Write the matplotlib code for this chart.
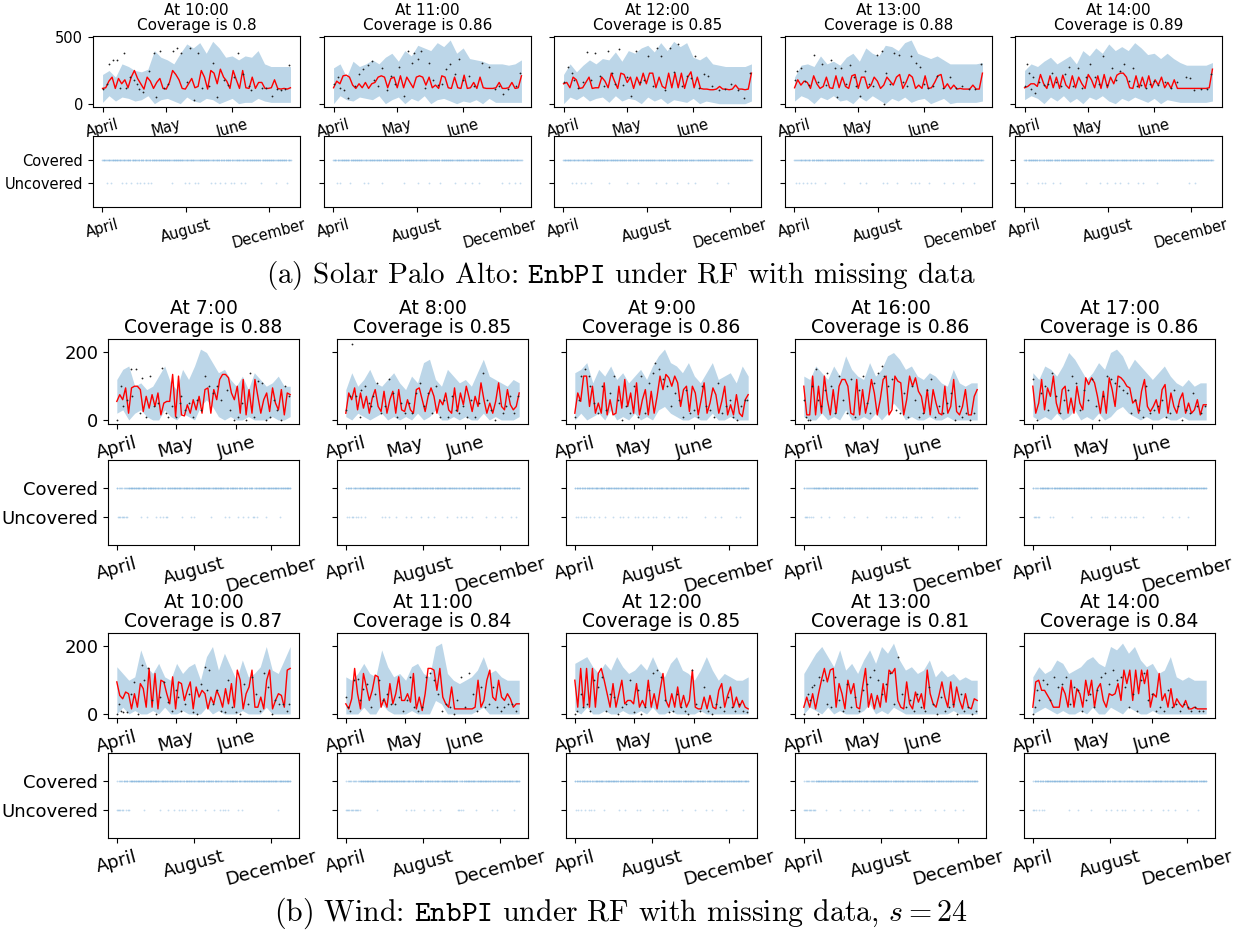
import numpy as np
import matplotlib
matplotlib.use("Agg")
import matplotlib.pyplot as plt

plt.rcParams['mathtext.fontset'] = 'cm'

# ---------------- data ----------------
ts_ticks = [0, 30, 61]
ts_labels = ['April', 'May', 'June']
strip_ticks = [0, 122, 244]
strip_labels = ['April', 'August', 'December']
n_strip_days = 276

# (a) Solar Palo Alto
hours_a = ['10:00', '11:00', '12:00', '13:00', '14:00']
cov_a = ['0.8', '0.86', '0.85', '0.88', '0.89']

red_a1 = [115,120,170,200,115,190,150,180,120,200,250,190,150,110,200,170,115,160,190,115,
          110,160,250,220,180,115,110,150,190,120,130,250,200,110,250,230,150,260,200,170,
          115,250,180,115,250,120,115,200,115,160,160,115,115,120,180,115,110,115,110,120]
up_a1 = [220,250,200,300,280,250,240,260,400,350,330,300,380,450,420,460,380,470,420,350,360,330,360,350,400,300,280,280,280,280]
lo_a1 = [10,60,20,50,40,20,30,60,0,30,40,20,0,50,20,10,40,30,0,20,40,0,10,10,40,20,10,10,10,10]
dots_a1 = [(0,110),(2,150),(3,300),(5,330),(7,330),(8,120),(10,380),(11,120),(13,200),(15,180),(16,150),(17,110),(19,90),(22,250),(24,380),(25,50),(27,400),(29,120),(31,150),(33,400),(35,420),(37,380),(40,160),(41,420),(43,30),(45,380),(47,120),(50,130),(52,310),(54,50),(57,180),(59,140),(62,200),(64,380),(66,220),(69,130),(70,100),(75,120),(77,120),(80,60),(82,110),(84,100),(86,110),(88,290)]
unc_a1 = [6,13,29,34,42,50,55,61,66,71,101,121,126,135,140,158,164,172,179,188,193,203,209,232,254,270]

red_a2 = [120,170,150,210,215,200,140,115,150,120,160,115,150,160,200,210,200,120,190,200,
          120,210,120,200,160,120,200,210,200,140,200,120,140,115,210,200,120,115,200,120,
          115,215,115,120,160,115,200,120,115,115,115,120,160,115,115,120,160,115,120,210]
up_a2 = [270,300,200,320,280,300,330,300,350,380,320,400,360,440,420,400,460,430,480,380,420,340,330,320,300,300,300,290,300,330]
lo_a2 = [0,60,30,20,50,40,30,60,0,30,50,0,40,20,60,0,30,40,20,0,20,10,30,0,40,10,10,10,10,10]
dots_a2 = [(0,150),(2,200),(3,120),(5,100),(7,40),(10,130),(12,220),(14,260),(16,290),(18,320),(19,180),(21,130),(23,270),(25,100),(27,210),(29,150),(31,280),(33,60),(35,400),(37,310),(38,380),(40,340),(41,400),(43,120),(45,310),(47,180),(49,140),(51,150),(53,260),(55,300),(57,220),(59,340),(61,180),(64,210),(66,130),(70,310),(73,280),(76,110),(78,130),(80,70),(82,110),(86,130),(88,230)]
unc_a2 = [5,9,24,44,50,71,103,124,140,156,177,193,203,213,246,256,266,272]

red_a3 = [150,160,120,200,180,115,120,160,200,115,120,120,200,170,120,230,170,115,230,220,
          160,200,115,200,140,230,150,230,230,120,200,130,115,230,120,230,120,230,115,200,
          240,120,200,115,110,110,105,105,110,130,110,110,105,110,140,110,110,105,110,230]
up_a3 = [220,300,240,290,330,300,340,330,390,320,400,380,420,440,390,460,400,470,430,460,350,330,360,300,290,280,280,280,280,300]
lo_a3 = [0,50,30,60,20,40,50,10,60,20,40,30,0,50,20,40,0,30,20,10,40,0,20,10,0,0,0,0,0,20]
dots_a3 = [(0,160),(2,280),(4,230),(5,180),(7,120),(9,160),(11,390),(13,180),(15,380),(17,210),(19,130),(21,400),(23,230),(24,150),(26,410),(28,140),(30,200),(32,60),(34,400),(36,160),(38,180),(40,360),(42,130),(44,420),(46,360),(48,100),(50,420),(52,240),(54,450),(56,130),(58,210),(60,190),(62,360),(64,120),(66,220),(68,210),(70,130),(73,100),(76,110),(79,150),(82,100),(85,40),(88,230)]
unc_a3 = [13,18,25,31,41,66,93,109,135,150,166,182,193,225,241]

red_a4 = [120,180,140,170,160,115,210,150,115,130,200,120,115,210,120,200,130,115,210,220,
          115,200,200,115,140,200,170,115,140,200,170,140,200,220,115,160,220,200,115,140,
          115,210,115,120,160,210,220,115,150,110,140,110,115,110,110,110,140,110,110,230]
up_a4 = [200,290,300,280,360,300,320,290,350,380,320,420,380,360,440,430,400,460,480,380,360,340,360,330,300,300,300,300,300,310]
lo_a4 = [20,60,40,0,50,30,60,20,30,0,50,20,60,30,0,40,20,50,10,30,40,0,20,40,0,10,10,10,10,20]
dots_a4 = [(0,180),(1,250),(3,270),(5,170),(7,140),(9,370),(11,160),(13,300),(15,140),(17,330),(19,270),(20,50),(22,270),(24,150),(26,290),(28,200),(29,130),(31,60),(33,250),(35,150),(37,130),(39,370),(41,400),(42,0),(43,230),(45,150),(47,380),(49,370),(51,160),(53,130),(55,360),(57,310),(59,280),(61,150),(63,120),(65,130),(67,210),(70,120),(73,200),(76,120),(79,130),(82,110),(85,110),(88,300)]
unc_a4 = [2,6,12,18,24,30,44,72,96,104,130,136,150,170,176,182,196,218,232,246,262]

red_a5 = [120,130,150,150,130,220,150,115,210,120,200,115,215,140,115,210,120,200,150,115,
          220,180,120,210,115,220,120,200,150,215,230,230,200,120,115,210,120,200,120,210,
          120,180,140,200,120,160,115,180,115,115,115,115,115,115,115,115,115,115,120,260]
up_a5 = [250,300,280,320,350,300,330,360,300,400,360,420,380,450,400,430,400,460,420,370,380,340,380,340,310,290,290,290,290,310]
lo_a5 = [30,60,40,0,50,20,60,10,40,0,50,30,60,20,0,40,20,50,30,10,40,0,30,20,10,10,10,10,10,20]
dots_a5 = [(0,130),(1,300),(2,230),(3,110),(4,200),(5,80),(7,160),(9,140),(11,150),(13,230),(15,160),(17,130),(19,220),(21,280),(23,130),(25,270),(27,120),(29,200),(31,300),(33,200),(35,150),(37,360),(39,140),(41,270),(43,180),(45,250),(47,300),(49,170),(51,270),(53,130),(55,140),(57,120),(59,150),(61,170),(63,140),(66,160),(69,120),(72,160),(76,200),(78,190),(80,100),(83,110),(86,110),(88,220)]
unc_a5 = [4,20,26,30,42,52,90,110,120,132,140,152,166,174,194,240,250]

# (b) Wind, first row
hours_b = ['7:00', '8:00', '9:00', '16:00', '17:00']
cov_b = ['0.88', '0.85', '0.86', '0.86', '0.86']

red_b1 = [55,75,60,95,20,95,100,100,90,25,70,35,75,40,80,15,50,55,55,135,
          10,130,15,12,45,20,60,30,70,20,90,95,20,90,60,120,135,135,125,80,
          60,100,20,120,15,90,20,120,70,20,60,80,25,95,50,30,90,15,80,75]
up_b1 = [120,150,160,100,110,90,100,130,160,110,90,150,120,160,210,200,170,140,150,120,100,130,90,140,120,100,110,130,100,100]
lo_b1 = [20,30,0,20,30,10,0,0,30,10,0,20,10,0,40,60,40,10,0,10,0,0,10,0,0,0,10,0,0,10]
dots_b1 = [(0,0),(2,100),(3,40),(5,60),(7,150),(8,70),(10,150),(12,20),(13,125),(15,10),(17,130),(19,40),(21,50),(23,155),(25,20),(26,10),(28,40),(30,10),(32,50),(33,70),(35,30),(37,50),(39,10),(41,60),(43,30),(45,130),(47,100),(49,80),(51,100),(53,60),(56,90),(58,30),(60,0),(62,10),(64,50),(66,0),(68,140),(70,10),(72,115),(74,110),(76,0),(78,10),(80,60),(82,30),(84,0),(86,100),(88,70)]
unc_b1 = [2,4,6,8,10,12,14,16,38,48,62,68,74,78,80,104,118,122,150,172,178,192,200,208,216,218,222,236,258]

red_b2 = [20,80,60,95,30,80,35,70,20,65,90,40,25,85,20,60,85,20,90,30,
          25,60,30,20,90,95,60,25,70,95,70,20,60,45,80,30,20,95,25,80,
          45,100,65,25,70,40,110,60,20,50,20,55,110,40,30,90,45,30,40,80]
up_b2 = [90,140,100,120,150,110,100,120,140,110,90,130,110,170,180,120,100,150,130,110,120,100,140,180,130,120,110,100,120,110]
lo_b2 = [10,0,20,10,0,10,20,0,10,0,10,0,20,0,10,30,0,0,10,0,10,0,0,20,0,10,0,0,0,10]
dots_b2 = [(0,30),(2,70),(3,225),(5,70),(7,10),(8,90),(10,100),(12,50),(13,40),(14,70),(16,110),(18,20),(20,40),(22,120),(24,80),(26,10),(28,50),(30,20),(32,50),(34,20),(36,80),(38,110),(40,40),(42,80),(44,20),(46,100),(48,10),(50,60),(52,10),(54,70),(56,30),(58,20),(60,40),(62,10),(64,60),(66,10),(68,50),(70,140),(72,60),(74,30),(76,0),(78,50),(80,20),(82,40),(84,70),(86,20),(88,70)]
unc_b2 = [2,6,10,12,16,20,24,30,58,62,68,80,96,104,120,130,140,160,176,182,190,200,222,236,248,262,270]

red_b3 = [20,80,55,130,130,40,100,20,50,20,110,15,60,15,20,100,35,120,40,80,
          20,110,15,60,90,15,85,20,70,130,90,135,125,100,130,110,40,90,100,25,
          100,80,15,60,110,20,50,95,75,20,55,100,15,45,15,75,20,10,60,75]
up_b3 = [140,150,170,110,150,130,160,120,140,110,130,150,120,160,190,210,170,160,140,170,130,110,140,170,120,130,140,110,160,130]
lo_b3 = [0,20,0,10,20,0,30,0,10,0,20,0,10,0,30,40,20,10,0,0,10,0,0,20,0,0,10,0,0,0]
dots_b3 = [(0,10),(2,60),(3,130),(5,150),(7,130),(8,100),(10,50),(12,20),(14,100),(16,30),(18,80),(20,130),(22,60),(24,0),(26,40),(28,20),(30,100),(32,10),(34,130),(36,20),(38,110),(40,140),(41,170),(43,150),(45,120),(47,100),(49,40),(51,80),(53,60),(55,10),(57,90),(59,20),(61,30),(63,10),(65,100),(67,40),(69,30),(71,10),(73,110),(75,20),(77,40),(79,60),(81,10),(83,0),(85,40),(87,60),(88,60)]
unc_b3 = [2,6,10,14,18,24,30,38,48,60,72,76,84,96,100,108,116,124,128,142,150,164,170,176,206,222,232,256,262]

red_b4 = [100,15,15,130,15,100,20,130,60,15,90,20,100,120,120,100,20,15,120,15,
          90,20,60,120,80,15,60,120,130,15,30,130,115,110,15,60,130,100,125,85,
          70,20,90,15,90,50,20,15,100,20,40,120,25,15,40,90,15,15,70,90]
up_b4 = [130,120,160,140,120,160,130,190,150,130,120,170,130,150,190,200,180,150,160,130,120,140,130,110,100,150,110,100,110,110]
lo_b4 = [10,0,0,20,0,10,0,30,0,0,10,0,20,0,20,50,30,0,10,0,0,10,0,0,10,0,0,0,0,0]
dots_b4 = [(0,60),(1,10),(2,0),(3,0),(4,100),(6,150),(7,60),(9,40),(11,90),(12,140),(14,100),(16,20),(18,130),(20,60),(22,20),(24,120),(26,10),(28,90),(30,130),(32,50),(34,20),(36,110),(38,140),(40,160),(41,130),(43,100),(45,120),(47,30),(49,20),(51,80),(53,10),(55,100),(57,60),(59,10),(61,20),(63,90),(65,120),(67,10),(69,40),(71,20),(73,50),(75,80),(77,0),(79,40),(81,10),(83,20),(85,0),(87,20)]
unc_b4 = [2,4,6,8,12,14,28,40,64,80,100,130,138,144,158,162,176,180,186,204,228,240,246]

red_b5 = [100,20,50,120,30,95,70,130,50,20,90,100,20,65,20,100,50,30,125,105,
          125,110,70,20,85,20,125,90,40,130,125,115,100,95,50,60,20,85,120,40,
          25,40,60,20,90,105,20,80,40,20,60,80,20,50,20,30,60,15,45,45]
up_b5 = [140,120,160,150,130,160,200,180,150,120,140,170,150,200,210,190,150,180,160,140,120,140,160,130,110,100,120,100,110,110]
lo_b5 = [10,0,10,0,20,0,10,30,0,10,0,20,0,10,30,40,20,10,0,10,0,0,10,0,0,10,0,0,0,0]
dots_b5 = [(0,120),(2,0),(4,80),(6,100),(8,30),(10,140),(12,70),(14,20),(16,60),(18,90),(20,130),(22,110),(24,30),(26,90),(28,60),(30,120),(32,40),(34,0),(36,70),(38,130),(40,120),(42,110),(44,100),(46,90),(48,80),(50,20),(52,60),(54,30),(56,10),(58,100),(60,20),(62,30),(64,40),(66,60),(68,10),(70,20),(72,90),(74,40),(76,0),(78,30),(80,20),(82,80),(84,40),(86,20),(88,40)]
unc_b5 = [2,4,6,8,10,28,32,62,92,110,114,118,130,140,146,154,160,164,174,206,220,232,246]

# (b) Wind, second row
hours_c = ['10:00', '11:00', '12:00', '13:00', '14:00']
cov_c = ['0.87', '0.84', '0.85', '0.81', '0.84']

red_c1 = [95,55,45,65,60,15,60,20,90,75,20,135,20,120,15,100,95,60,30,110,
          15,95,90,40,70,95,15,80,50,70,60,15,50,30,70,50,20,75,30,90,
          20,130,100,15,60,80,130,20,20,50,15,100,130,15,40,60,55,20,130,135]
up_c1 = [140,120,100,110,190,140,120,150,110,100,150,120,140,150,100,170,200,130,180,140,100,160,110,120,140,200,130,120,160,200]
lo_c1 = [0,20,0,10,0,0,10,0,20,0,0,10,0,0,0,20,0,10,0,0,0,10,0,0,0,20,0,0,0,0]
dots_c1 = [(0,0),(1,30),(2,10),(3,5),(5,5),(7,60),(9,95),(11,0),(13,145),(14,100),(16,135),(18,40),(20,0),(22,50),(24,95),(26,35),(28,10),(30,70),(31,50),(33,10),(35,30),(37,60),(39,5),(41,0),(43,90),(45,140),(46,70),(47,130),(49,30),(51,70),(53,10),(55,5),(57,100),(59,20),(61,5),(63,0),(65,90),(67,30),(69,110),(71,60),(73,10),(75,120),(77,80),(79,0),(81,40),(83,30),(85,30),(87,10),(88,30)]
unc_c1 = [0,2,4,6,8,10,14,18,20,44,68,82,90,98,104,108,120,126,140,154,164,168,172,176,192,198,256]

red_c2 = [30,15,45,135,60,15,120,80,40,70,115,110,20,45,20,90,30,60,110,40,
          40,60,35,120,15,50,10,60,135,135,130,70,135,50,30,20,80,15,15,15,
          15,15,15,15,20,100,20,40,100,130,50,40,100,50,40,60,45,20,30,30]
up_c2 = [110,100,120,150,120,110,190,140,110,120,100,140,150,120,110,200,210,120,100,90,100,110,130,170,120,130,110,100,100,100]
lo_c2 = [0,0,0,20,0,0,30,10,0,0,0,10,0,0,0,40,30,0,0,0,0,0,10,20,0,0,0,0,0,0]
dots_c2 = [(0,50),(1,20),(2,10),(4,100),(6,105),(7,40),(9,75),(11,90),(13,20),(15,60),(17,100),(19,40),(21,60),(23,30),(25,30),(27,50),(29,10),(31,40),(33,110),(35,20),(37,10),(39,20),(41,110),(43,120),(45,100),(47,60),(49,10),(51,30),(53,20),(55,0),(57,40),(59,110),(61,20),(63,120),(65,60),(67,10),(69,80),(71,20),(73,30),(75,80),(77,20),(79,10),(81,20),(83,30),(85,30),(87,10)]
unc_c2 = [0,2,4,6,8,10,12,14,16,18,20,22,50,96,104,108,124,138,150,178,180,182,186,206,232,240,266]

red_c3 = [100,20,135,20,135,20,135,20,120,135,100,60,20,90,20,60,100,30,40,40,
          30,90,20,40,20,100,20,60,15,70,120,40,20,60,20,80,20,55,20,40,
          130,20,15,15,50,15,55,20,15,70,90,20,55,80,20,50,20,40,20,15]
up_c3 = [150,160,170,140,120,150,130,170,140,120,130,150,130,170,130,110,150,170,130,120,100,130,170,130,100,120,110,100,100,110]
lo_c3 = [10,0,20,0,0,10,0,0,10,0,0,10,0,20,0,0,10,0,0,0,0,10,0,0,0,0,0,0,0,0]
dots_c3 = [(0,0),(1,10),(3,60),(4,20),(6,30),(8,10),(10,100),(12,80),(14,110),(16,10),(18,60),(20,50),(22,0),(24,20),(26,30),(28,100),(30,5),(32,70),(34,0),(36,20),(38,70),(40,120),(42,130),(44,110),(46,40),(48,5),(50,10),(52,60),(54,20),(56,10),(58,0),(60,130),(62,30),(64,10),(66,80),(68,10),(70,0),(72,30),(74,20),(76,10),(78,50),(80,20),(82,10),(84,30),(86,10),(88,5)]
unc_c3 = [2,6,10,16,22,26,30,46,70,80,98,104,124,140,146,170,190,208,218,240,266]

red_c4 = [20,50,20,60,15,60,100,135,95,130,135,20,90,60,15,100,60,90,20,15,
          80,135,20,60,15,55,20,90,35,130,120,135,40,20,15,95,30,15,65,35,
          60,15,130,60,30,20,55,95,50,20,95,20,80,40,15,60,20,15,45,40]
up_c4 = [120,150,180,200,170,140,190,130,150,120,160,190,150,200,180,210,160,130,140,120,130,160,110,130,110,120,100,110,100,100]
lo_c4 = [0,20,10,0,20,0,10,0,0,0,10,30,0,10,0,20,10,0,0,0,0,0,0,0,0,10,0,0,0,0]
dots_c4 = [(0,0),(2,60),(3,40),(4,80),(5,85),(7,0),(8,110),(10,100),(12,30),(14,20),(16,110),(18,40),(20,10),(22,90),(24,20),(26,50),(28,10),(30,70),(32,90),(34,110),(36,130),(38,100),(40,60),(42,90),(44,120),(46,30),(48,170),(50,60),(52,20),(54,40),(56,10),(58,60),(60,20),(62,10),(64,80),(66,30),(68,0),(70,50),(72,10),(74,20),(76,30),(78,0),(80,60),(82,10),(84,20),(86,0),(88,10)]
unc_c4 = [0,2,4,6,8,10,12,14,16,18,36,58,80,92,104,136,140,160,176,184,208,222,240,252]

red_c5 = [20,95,100,70,70,55,40,20,20,20,80,60,20,100,20,75,60,20,100,55,
          100,20,75,90,40,20,60,55,60,90,40,130,90,130,40,130,60,130,90,130,
          20,60,50,120,40,60,20,75,20,45,30,20,40,15,15,20,15,15,15,15]
up_c5 = [110,140,120,130,160,150,120,130,140,160,170,150,140,200,190,210,180,200,160,140,150,120,130,170,110,100,110,100,100,100]
lo_c5 = [0,10,20,10,0,10,0,0,10,0,20,0,0,20,10,0,20,10,0,0,10,0,0,0,0,0,0,0,0,0]
dots_c5 = [(0,0),(1,20),(2,70),(3,40),(5,100),(7,90),(9,40),(11,110),(13,80),(15,90),(17,110),(19,30),(21,80),(23,70),(25,10),(27,40),(29,60),(31,20),(33,70),(35,110),(37,120),(39,90),(41,130),(43,100),(45,110),(47,80),(49,20),(51,60),(53,10),(55,100),(57,120),(59,40),(61,60),(63,10),(65,20),(67,10),(69,70),(71,20),(73,30),(75,10),(77,30),(79,20),(81,10),(83,20),(85,10),(87,10)]
unc_c5 = [0,2,6,10,14,18,58,72,92,116,124,134,142,146,160,174,188,206,214,226,244,262]

# ---------------- drawing ----------------
W, H = 1241, 936
fig = plt.figure(figsize=(W / 100, H / 100), dpi=100)


def add_ax(left, top, width, height):
    return fig.add_axes([left / W, 1 - (top + height) / H, width / W, height / H])


band_color = (0.737, 0.839, 0.910)


def draw_ts(ax, red, up, lo, dots, ylim, yticks, fs, title, tfs):
    xr = np.arange(len(red)) * 1.5
    xb = np.linspace(0, xr[-1], len(up))
    ax.fill_between(xb, lo, up, color=band_color, lw=0)
    ax.plot(xr, red, color='red', lw=1.0)
    dx, dy = zip(*dots)
    ax.plot(dx, dy, 'o', color='#222222', ms=1.3, mew=0)
    ax.set_xlim(-4.5, xr[-1] + 4.5)
    ax.set_ylim(*ylim)
    ax.set_yticks(yticks)
    ax.set_xticks(ts_ticks)
    ax.set_xticklabels(ts_labels, rotation=15)
    ax.tick_params(labelsize=fs)
    ax.set_title(title, fontsize=tfs, pad=4, linespacing=1.0)


def draw_strip(ax, unc, fs):
    days = np.arange(n_strip_days)
    cov = np.setdiff1d(days, unc)
    ax.plot(cov, np.ones_like(cov), 'o', color='#6fa8d6', ms=1.3, alpha=0.4, mew=0)
    ax.plot(unc, np.zeros(len(unc)), 'o', color='#6fa8d6', ms=1.3, alpha=0.4, mew=0)
    ax.set_ylim(-1, 2)
    ax.set_xlim(-0.05 * (n_strip_days - 1), (n_strip_days - 1) * 1.05)
    ax.set_yticks([0, 1])
    ax.set_yticklabels(['Uncovered', 'Covered'])
    ax.set_xticks(strip_ticks)
    ax.set_xticklabels(strip_labels, rotation=15)
    ax.tick_params(labelsize=fs)


# (a)
lefts_a = [93, 324, 554, 785, 1015]
panels_a = [(red_a1, up_a1, lo_a1, dots_a1, unc_a1), (red_a2, up_a2, lo_a2, dots_a2, unc_a2),
            (red_a3, up_a3, lo_a3, dots_a3, unc_a3), (red_a4, up_a4, lo_a4, dots_a4, unc_a4),
            (red_a5, up_a5, lo_a5, dots_a5, unc_a5)]
for i, (red, up, lo, dots, unc) in enumerate(panels_a):
    ax = add_ax(lefts_a[i], 36, 207, 71)
    draw_ts(ax, red, up, lo, dots, (-25, 510), [0, 500], 10.5,
            f"At {hours_a[i]}\nCoverage is {cov_a[i]}", 11)
    if i > 0:
        ax.set_yticklabels([])
    ax2 = add_ax(lefts_a[i], 136, 207, 71)
    draw_strip(ax2, unc, 10.5)
    if i > 0:
        ax2.set_yticklabels([])

# (b)
lefts_b = [108, 337, 566, 795, 1024]
rows_b = [
    (339, 460, hours_b, cov_b,
     [(red_b1, up_b1, lo_b1, dots_b1, unc_b1), (red_b2, up_b2, lo_b2, dots_b2, unc_b2),
      (red_b3, up_b3, lo_b3, dots_b3, unc_b3), (red_b4, up_b4, lo_b4, dots_b4, unc_b4),
      (red_b5, up_b5, lo_b5, dots_b5, unc_b5)]),
    (633, 753, hours_c, cov_c,
     [(red_c1, up_c1, lo_c1, dots_c1, unc_c1), (red_c2, up_c2, lo_c2, dots_c2, unc_c2),
      (red_c3, up_c3, lo_c3, dots_c3, unc_c3), (red_c4, up_c4, lo_c4, dots_c4, unc_c4),
      (red_c5, up_c5, lo_c5, dots_c5, unc_c5)]),
]
for top_ts, top_st, hours, covs, panels in rows_b:
    for i, (red, up, lo, dots, unc) in enumerate(panels):
        ax = add_ax(lefts_b[i], top_ts, 191, 85)
        draw_ts(ax, red, up, lo, dots, (-12, 240), [0, 200], 13,
                f"At {hours[i]}\nCoverage is {covs[i]}", 13.5)
        if i > 0:
            ax.set_yticklabels([])
        ax2 = add_ax(lefts_b[i], top_st, 191, 85)
        draw_strip(ax2, unc, 13)
        if i > 0:
            ax2.set_yticklabels([])

fig.text(0.5, 1 - 275 / H, r"(a) Solar Palo Alto: $\mathtt{EnbPI}$ under RF with missing data",
         family='cmr10', fontsize=21, ha='center', va='center')
fig.text(0.5, 1 - 913 / H, r"(b) Wind: $\mathtt{EnbPI}$ under RF with missing data, $s=24$",
         family='cmr10', fontsize=21.5, ha='center', va='center')

fig.savefig('out.png', dpi=100)
